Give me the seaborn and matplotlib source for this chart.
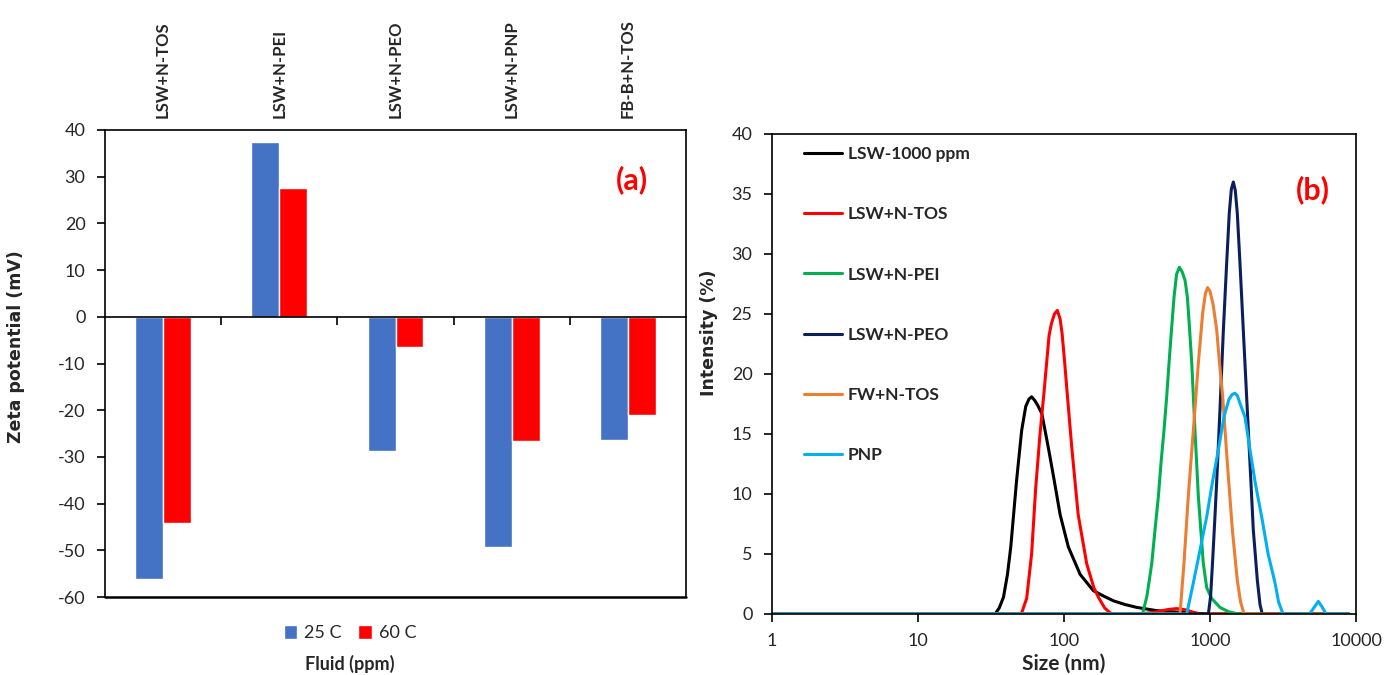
import matplotlib
matplotlib.use("Agg")
import matplotlib.pyplot as plt
import seaborn as sns
import pandas as pd
from matplotlib.lines import Line2D

# ---------------- data: panel (a) ----------------
fluids = ["LSW+N-TOS", "LSW+N-PEI", "LSW+N-PEO", "LSW+N-PNP", "FB-B+N-TOS"]
temps = ["25 C", "60 C"]
zeta_25C = [-56.2, 37.5, -28.7, -49.3, -26.4]
zeta_60C = [-44.2, 27.5, -6.4, -26.5, -21.0]

# ---------------- data: panel (b) ----------------
samples = ["LSW-1000 ppm", "LSW+N-TOS", "LSW+N-PEI", "LSW+N-PEO", "FW+N-TOS", "PNP"]

lsw_size = [1, 33.7, 36, 38.5, 41, 43.2, 47.4, 51.3, 54.7, 57.5, 60, 63, 66, 70.5, 78, 85.5,
            94, 107, 129, 159, 190, 218, 260, 315, 431, 623, 800, 950, 8900]
lsw_int = [0, 0, 0.5, 1.4, 3.3, 5.6, 11.2, 15.3, 17.3, 17.9, 18.1, 17.8, 17.4, 16.7, 13.9, 11.2,
           8.3, 5.6, 3.3, 1.94, 1.45, 1.1, 0.8, 0.55, 0.28, 0.14, 0.06, 0, 0]

tos_size = [1, 51, 55.5, 60, 64, 68.5, 73, 79, 82, 86, 90, 94, 97, 101, 105, 113, 125, 143,
            160, 172, 190, 207, 215, 330, 420, 520, 590, 680, 780, 860, 8900]
tos_int = [0, 0, 1.3, 5.0, 10.5, 15.0, 18.5, 23.2, 24.2, 25.0, 25.3, 24.6, 23.4, 21.0, 18.5, 13.9, 8.3, 4.2,
           2.2, 1.4, 0.5, 0.1, 0, 0, 0.15, 0.38, 0.45, 0.35, 0.12, 0, 0]

pei_size = [1, 345, 370, 399, 420, 443, 462, 484, 505, 524, 545, 567, 590, 617, 645, 675,
            700, 725, 750, 789, 832, 900, 949, 1026, 1170, 1334, 1500, 1683, 8900]
pei_int = [0, 0, 1.5, 4.2, 7.0, 9.8, 12.6, 15.3, 18.1, 20.9, 23.7, 26.4, 28.3, 28.9, 28.5, 27.8,
           26.4, 23.7, 20.9, 15.3, 9.8, 4.2, 2.2, 1.3, 0.55, 0.2, 0.05, 0, 0]

peo_size = [1, 975, 1010, 1043, 1080, 1111, 1170, 1233, 1300, 1355, 1400, 1445, 1490, 1538,
            1605, 1690, 1782, 1878, 1980, 2110, 2200, 2280, 8900]
peo_int = [0, 0, 1.5, 4.5, 8.0, 11.0, 17.0, 23.5, 29.2, 33.4, 35.4, 36.0, 35.3, 33.4,
           29.2, 23.7, 18.1, 12.6, 7.0, 2.8, 0.8, 0, 0]

fw_size = [1, 623, 663, 710, 769, 832, 891, 930, 962, 1000, 1050, 1111, 1160, 1222, 1314,
           1423, 1538, 1620, 1710, 8900]
fw_int = [0, 0, 4.2, 9.8, 15.3, 20.9, 25.1, 26.7, 27.2, 26.9, 25.8, 23.7, 21.0, 18.1, 12.6,
          7.0, 2.8, 1.0, 0, 0]

pnp_size = [1, 693, 769, 850, 949, 1040, 1141, 1250, 1350, 1420, 1480, 1540, 1600, 1738, 1878, 2050,
            2259, 2500, 2787, 2950, 3165, 4810, 5200, 5520, 5850, 6236, 8900]
pnp_int = [0, 0, 2.6, 5.2, 8.1, 11.0, 13.7, 16.5, 17.9, 18.3, 18.4, 18.2, 17.6, 16.4, 13.7, 10.8,
           8.1, 5.0, 2.6, 1.0, 0, 0, 0.6, 1.05, 0.6, 0, 0]

curve_sizes = [lsw_size, tos_size, pei_size, peo_size, fw_size, pnp_size]
curve_ints = [lsw_int, tos_int, pei_int, peo_int, fw_int, pnp_int]
line_colors = ["#000000", "#FF0000", "#00B050", "#0B1F5C", "#ED7D31", "#00B0F0"]

# ---------------- style ----------------
sns.set_theme(style="white")
plt.rcParams["font.family"] = ["Lato", "DejaVu Sans"]
plt.rcParams["axes.edgecolor"] = "black"
plt.rcParams["axes.linewidth"] = 1.2
plt.rcParams["axes.unicode_minus"] = False

W, H = 1384, 675
fig = plt.figure(figsize=(W / 100, H / 100), dpi=100)
fig.patch.set_facecolor("white")

axL = fig.add_axes([105 / W, 1 - 597 / H, 581 / W, 467 / H])
axR = fig.add_axes([772 / W, 1 - 614 / H, 584 / W, 480 / H])

# ---------------- panel (a) ----------------
dfz = pd.DataFrame({
    "Fluid": fluids * 2,
    "Temp": [temps[0]] * len(fluids) + [temps[1]] * len(fluids),
    "Zeta": zeta_25C + zeta_60C,
})
sns.barplot(data=dfz, x="Fluid", y="Zeta", hue="Temp", order=fluids, hue_order=temps,
            palette=["#4472C4", "#FF0000"], saturation=1, width=0.48, gap=0,
            errorbar=None, ax=axL, legend=True)

axL.set_ylim(-60, 40)
axL.set_xlim(-0.5, len(fluids) - 0.5)
axL.set_yticks(range(-60, 41, 10))
axL.spines["bottom"].set_position(("data", 0))
axL.axhline(-60, color="black", lw=1.8, clip_on=False, zorder=5)
for s in ["top", "right", "left"]:
    axL.spines[s].set_visible(True)
    axL.spines[s].set_color("black")
axL.spines["bottom"].set_color("black")

axL.set_xticks([0.5, 1.5, 2.5, 3.5], minor=True)
axL.tick_params(axis="x", which="major", bottom=False, top=False, length=0, labelbottom=False,
                labeltop=True, labelrotation=90, pad=9)
axL.tick_params(axis="x", which="minor", bottom=True, length=6, width=1.2, color="black",
                direction="out")
axL.tick_params(axis="y", left=True, length=6, width=1.2, direction="out", pad=8,
                labelsize=13, color="black")
for lab in axL.get_xticklabels():
    lab.set_fontsize(12)
    lab.set_fontweight("bold")
axL.set_xlabel("")
axL.set_ylabel("Zeta potential (mV)", fontfamily="DejaVu Sans", fontweight="bold", fontsize=12.5)
axL.yaxis.set_label_coords(-0.138, 0.537)

h, l = axL.get_legend_handles_labels()
axL.legend(h, l, loc="center", bbox_to_anchor=(350 / W, 1 - 633 / H),
           bbox_transform=fig.transFigure, ncol=2, frameon=False, handlelength=0.75,
           handleheight=0.85, handletextpad=0.4, columnspacing=0.9, fontsize=13)
fig.text(350 / W, 1 - 664 / H, "Fluid (ppm)", ha="center", va="center", fontsize=13,
         fontweight="bold")
axL.text(632 / W, 1 - 180 / H, "(a)", transform=fig.transFigure, ha="center", va="center",
         color="#FF0000", fontsize=22, fontweight="bold")

# ---------------- panel (b) ----------------
rows = []
for name, xs, ys in zip(samples, curve_sizes, curve_ints):
    for x, y in zip(xs, ys):
        rows.append((name, x, y))
dfi = pd.DataFrame(rows, columns=["Sample", "Size", "Intensity"])
sns.lineplot(data=dfi, x="Size", y="Intensity", hue="Sample", hue_order=samples,
             palette=line_colors, sort=False, estimator=None, lw=2.2, ax=axR, legend=False)

axR.set_xscale("log")
axR.set_xlim(1, 10000)
axR.set_ylim(0, 40)
axR.set_xticks([1, 10, 100, 1000, 10000])
axR.set_xticklabels(["1", "10", "100", "1000", "10000"])
axR.xaxis.set_minor_locator(matplotlib.ticker.NullLocator())
axR.set_yticks(range(0, 41, 5))
for s in ["top", "right", "left", "bottom"]:
    axR.spines[s].set_visible(True)
    axR.spines[s].set_color("black")
axR.tick_params(axis="both", bottom=True, left=True, length=6, width=1.2, direction="out",
                labelsize=13, color="black")
axR.tick_params(axis="x", pad=8)
axR.tick_params(axis="y", pad=8)
axR.set_xlabel("Size (nm)", fontsize=15, fontweight="bold")
axR.xaxis.set_label_coords(0.5, -0.082)
axR.set_ylabel("Intensity (%)", fontfamily="DejaVu Sans", fontweight="bold", fontsize=12.5)
axR.yaxis.set_label_coords(-0.092, 0.585)

handles = [Line2D([0], [0], color=c, lw=2.2) for c in line_colors]
leg = axR.legend(handles, samples, loc="upper left", bbox_to_anchor=(0.055, 0.975),
                 frameon=False, handlelength=2.2, handletextpad=0.3, labelspacing=2.55,
                 borderaxespad=0, borderpad=0, prop={"weight": "bold", "size": 12.5})
axR.text(1313 / W, 1 - 190 / H, "(b)", transform=fig.transFigure, ha="center", va="center",
         color="#FF0000", fontsize=22, fontweight="bold")

fig.savefig("out.png", dpi=100, facecolor="white")
